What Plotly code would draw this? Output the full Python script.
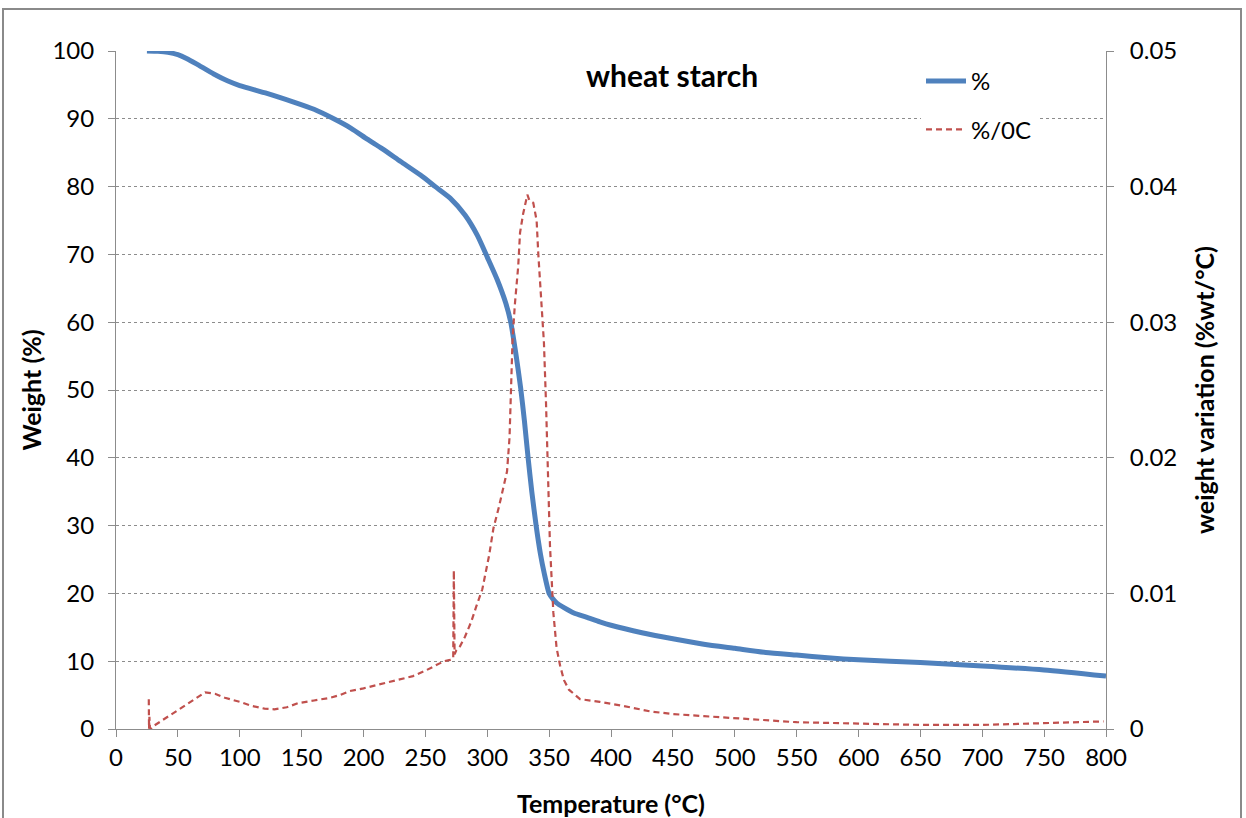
import plotly.graph_objects as go

# TGA mass-loss curve of wheat starch
temp_weight = [25, 34, 42, 50, 57, 65, 79, 90, 100, 122, 143, 160, 176, 190, 203, 215,
               230, 246, 258, 270, 282, 292, 300, 308, 315, 319, 323, 327, 330, 333,
               336, 339.5, 343, 346, 350, 353, 356, 362, 370, 380, 391, 400, 425, 450,
               475, 500, 525, 550, 575, 600, 650, 700, 750, 800]
weight_pct = [100, 99.95, 99.8, 99.45, 98.9, 98.1, 96.6, 95.6, 94.9, 93.75, 92.5, 91.4,
              90.0, 88.6, 87.0, 85.6, 83.7, 81.7, 80.0, 78.3, 75.8, 72.8, 69.6, 66.3,
              62.8, 60, 55.5, 50.3, 45.5, 40, 35, 30, 25.8, 23, 20, 19.2, 18.6, 17.9,
              17.1, 16.5, 15.8, 15.3, 14.2, 13.3, 12.5, 11.9, 11.3, 10.9, 10.5, 10.2,
              9.8, 9.3, 8.7, 7.8]

# DTG: rate of weight change
temp_dtg = [26.5, 26.7, 27.0, 27.4, 28, 30, 40, 51, 60, 72, 80, 88, 100, 110, 120, 128,
            138, 147, 160, 173, 181, 189, 200, 213, 226, 240, 250, 258, 265, 270, 272.5,
            273, 273.6, 275, 278, 282, 287, 291, 296, 301.5, 305, 309.5, 313, 316, 318,
            319.5, 320.5, 322.4, 325, 326.5, 329, 332.4, 334, 337.2, 339.9, 341.2,
            343.9, 345.8, 347.5, 349.3, 350.7, 353.4, 356, 358.8, 362, 366, 375, 391,
            410, 431.5, 450, 475, 500, 525, 550, 600, 650, 700, 750, 798]
dtg_rate = [0.0022, 0.0, 0.0009, 0.0001, 0.0, 0.0002, 0.0008, 0.00145, 0.002, 0.0027,
            0.0026, 0.0023, 0.002, 0.0017, 0.0015, 0.00145, 0.0016, 0.0019, 0.0021,
            0.0023, 0.0025, 0.0028, 0.003, 0.0033, 0.0036, 0.0039, 0.0043, 0.0047,
            0.005, 0.0051, 0.0052, 0.0117, 0.0055, 0.0058, 0.0061, 0.0068, 0.0079,
            0.009, 0.0103, 0.0128, 0.0148, 0.0164, 0.0178, 0.019, 0.0215, 0.0266,
            0.0289, 0.0314, 0.0341, 0.0366, 0.038, 0.0394, 0.039, 0.0388, 0.0375,
            0.0351, 0.0314, 0.0285, 0.024, 0.0184, 0.0135, 0.0086, 0.006, 0.0047,
            0.0036, 0.0029, 0.0022, 0.002, 0.0017, 0.0013, 0.0011, 0.00095, 0.0008,
            0.00065, 0.0005, 0.0004, 0.0003, 0.0003, 0.00044, 0.00056]

FONT = "Lato"
GRID = "#8c8c8c"
AXIS = "#8c8c8c"
TICK_SIZE = 24
TITLE_SIZE = 25

fig = go.Figure()
fig.add_trace(go.Scatter(
    x=temp_weight, y=weight_pct, name="%", mode="lines",
    line=dict(color="#4F81BD", width=5, shape="spline", smoothing=0.6),
    legendgroup="a",
))
fig.add_trace(go.Scatter(
    x=temp_dtg, y=dtg_rate, name="%/0C", mode="lines", yaxis="y2",
    line=dict(color="#C0504D", width=2.2, dash="6px,4px"), legendgroup="b",
))

L, R, T, B = 116, 140, 51, 89
W, H = 1246, 818
pw, ph = W - L - R, H - T - B


def px_x(x):
    return (x - L) / pw


def px_y(y):
    return (H - B - y) / ph


fig.update_layout(
    width=W, height=H,
    margin=dict(l=L, r=R, t=T, b=B, pad=0, autoexpand=False),
    paper_bgcolor="white", plot_bgcolor="white",
    font=dict(family=FONT, size=TICK_SIZE, color="black"),
    xaxis=dict(
        range=[0, 800], dtick=50, tick0=0, automargin=False,
        showgrid=False, zeroline=False,
        showline=True, linecolor=AXIS, linewidth=1,
        ticks="outside", ticklen=7, tickcolor=AXIS,
        tickfont=dict(size=TICK_SIZE),
        title=dict(text="<b>Temperature (°C)</b>", font=dict(size=TITLE_SIZE), standoff=25),
    ),
    yaxis=dict(
        range=[0, 100], dtick=10, automargin=False,
        showgrid=True, gridcolor=GRID, griddash="3px,3px", gridwidth=1,
        zeroline=False,
        showline=True, linecolor=AXIS, linewidth=1,
        ticks="outside", ticklen=7, tickcolor=AXIS,
        tickfont=dict(size=TICK_SIZE), ticklabelstandoff=9,
        title=dict(text="<b>Weight (%)</b>", font=dict(size=TITLE_SIZE), standoff=3),
    ),
    yaxis2=dict(
        range=[0, 0.05], dtick=0.01, overlaying="y", side="right", automargin=False,
        showgrid=False, zeroline=False,
        showline=True, linecolor=AXIS, linewidth=1,
        ticks="outside", ticklen=7, tickcolor=AXIS,
        tickfont=dict(size=TICK_SIZE), ticklabelstandoff=11,
        title=dict(text="<b>weight variation (%wt/°C)</b>", font=dict(size=TITLE_SIZE),
                   standoff=20),
    ),
    legend=dict(
        x=px_x(921), y=px_y(59), xanchor="left", yanchor="top",
        bgcolor="white", font=dict(size=TICK_SIZE),
        tracegroupgap=14, itemwidth=40,
    ),
    annotations=[dict(
        text="<b>wheat starch</b>", x=px_x(672), y=px_y(75),
        xref="paper", yref="paper", xanchor="center", yanchor="middle",
        showarrow=False,
        font=dict(size=30, family=FONT, color="black"),
    )],
    shapes=[dict(
        type="rect", xref="paper", yref="paper",
        x0=px_x(3), x1=px_x(1241), y0=px_y(840), y1=px_y(9),
        line=dict(color="#8a8a8a", width=2), fillcolor="rgba(0,0,0,0)", layer="below",
    )],
)

fig.write_html("out.html")
